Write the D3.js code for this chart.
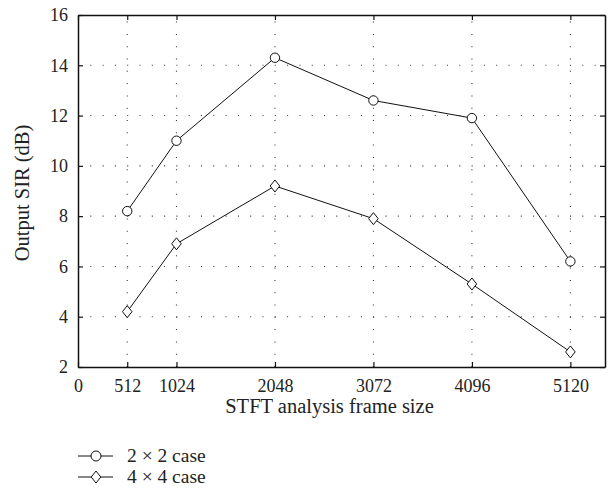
<!DOCTYPE html>
<html lang="en">
<head>
<meta charset="UTF-8">
<title>Output SIR vs STFT frame size</title>
<script src="https://cdn.jsdelivr.net/npm/d3@7"></script>
<style>
  body { margin: 0; background: #fff; }
  text { font-family: "Liberation Serif", "DejaVu Serif", serif; fill: #222; }
</style>
</head>
<body>
<div id="chart"></div>
<script>
  // data
  const frameSizes = [512, 1024, 2048, 3072, 4096, 5120];
  const sir2x2 = [8.2, 11.0, 14.3, 12.6, 11.9, 6.2];
  const sir4x4 = [4.2, 6.9, 9.2, 7.9, 5.3, 2.6];
  const xTicks = [0, 512, 1024, 2048, 3072, 4096, 5120];
  const yTicks = [2, 4, 6, 8, 10, 12, 14, 16];
  const seriesNames = ["2 \u00d7 2 case", "4 \u00d7 4 case"];

  const width = 613, height = 502;
  const margin = {top: 15, right: 8, bottom: 135, left: 78};
  const xMax = 5480;

  const svg = d3.select("#chart").append("svg")
      .attr("width", width)
      .attr("height", height);

  const x = d3.scaleLinear().domain([0, xMax]).range([margin.left, width - margin.right]);
  const y = d3.scaleLinear().domain([2, 16]).range([height - margin.bottom, margin.top]);

  // dotted grid
  const grid = svg.append("g")
      .attr("stroke", "#333")
      .attr("stroke-width", 1.1)
      .attr("stroke-dasharray", "1,11.3");
  grid.selectAll("line.v")
    .data(xTicks.filter(d => d > 0))
    .join("line")
      .attr("x1", d => x(d)).attr("x2", d => x(d))
      .attr("y1", y(2)).attr("y2", y(16));
  grid.selectAll("line.h")
    .data(yTicks.filter(d => d > 2 && d < 16))
    .join("line")
      .attr("x1", x(0)).attr("x2", x(xMax))
      .attr("y1", d => y(d)).attr("y2", d => y(d));

  // axes with inward ticks
  const fs = "18px";
  const xAxis = svg.append("g")
      .attr("transform", `translate(0,${y(2)})`)
      .call(d3.axisBottom(x).tickValues(xTicks).tickFormat(d3.format("d")).tickSize(-5).tickPadding(12).tickSizeOuter(0));
  const xTop = svg.append("g")
      .attr("transform", `translate(0,${y(16)})`)
      .call(d3.axisTop(x).tickValues(xTicks).tickSize(-5).tickFormat("").tickSizeOuter(0));
  const yAxis = svg.append("g")
      .attr("transform", `translate(${x(0)},0)`)
      .call(d3.axisLeft(y).tickValues(yTicks).tickSize(-5).tickPadding(10).tickSizeOuter(0));
  const yRight = svg.append("g")
      .attr("transform", `translate(${x(xMax)},0)`)
      .call(d3.axisRight(y).tickValues(yTicks).tickSize(-5).tickFormat("").tickSizeOuter(0));

  [xAxis, xTop, yAxis, yRight].forEach(g => {
    g.attr("font-size", fs).attr("font-family", "Liberation Serif, serif");
    g.select(".domain").attr("stroke", "#111").attr("stroke-width", 1.5);
    g.selectAll(".tick line").attr("stroke", "#111").attr("stroke-width", 1.2);
    g.selectAll("text").attr("fill", "#222");
  });

  // axis titles
  svg.append("text")
      .attr("x", (x(0) + x(xMax)) / 2 - 12)
      .attr("y", 413)
      .attr("text-anchor", "middle")
      .attr("font-size", "20.5px")
      .text("STFT analysis frame size");
  svg.append("text")
      .attr("transform", `translate(29,193) rotate(-90)`)
      .attr("text-anchor", "middle")
      .attr("font-size", "20.5px")
      .text("Output SIR (dB)");

  // series
  const line = d3.line().x((d, i) => x(frameSizes[i])).y(d => y(d));
  const diamond = (cx, cy, r) => `M${cx},${cy - r}L${cx + r * 0.8},${cy}L${cx},${cy + r}L${cx - r * 0.8},${cy}Z`;

  [sir2x2, sir4x4].forEach((vals, k) => {
    svg.append("path")
        .datum(vals)
        .attr("fill", "none")
        .attr("stroke", "#111")
        .attr("stroke-width", 1)
        .attr("d", line);
    if (k === 0) {
      svg.append("g").selectAll("circle")
        .data(vals)
        .join("circle")
          .attr("cx", (d, i) => x(frameSizes[i]))
          .attr("cy", d => y(d))
          .attr("r", 4.7)
          .attr("fill", "#fff")
          .attr("stroke", "#111")
          .attr("stroke-width", 1);
    } else {
      svg.append("g").selectAll("path")
        .data(vals)
        .join("path")
          .attr("d", (d, i) => diamond(x(frameSizes[i]), y(d), 6))
          .attr("fill", "#fff")
          .attr("stroke", "#111")
          .attr("stroke-width", 1);
    }
  });

  // legend
  const legend = svg.append("g");
  seriesNames.forEach((name, k) => {
    const ly = 456 + k * 21;
    legend.append("line")
        .attr("x1", 78).attr("x2", 113)
        .attr("y1", ly).attr("y2", ly)
        .attr("stroke", "#111").attr("stroke-width", 1);
    if (k === 0) {
      legend.append("circle").attr("cx", 96).attr("cy", ly).attr("r", 5)
          .attr("fill", "#fff").attr("stroke", "#111").attr("stroke-width", 1);
    } else {
      legend.append("path").attr("d", diamond(96, ly, 6))
          .attr("fill", "#fff").attr("stroke", "#111").attr("stroke-width", 1);
    }
    legend.append("text")
        .attr("x", 127).attr("y", ly + 6)
        .attr("font-size", "19.5px")
        .text(name);
  });
</script>
</body>
</html>
